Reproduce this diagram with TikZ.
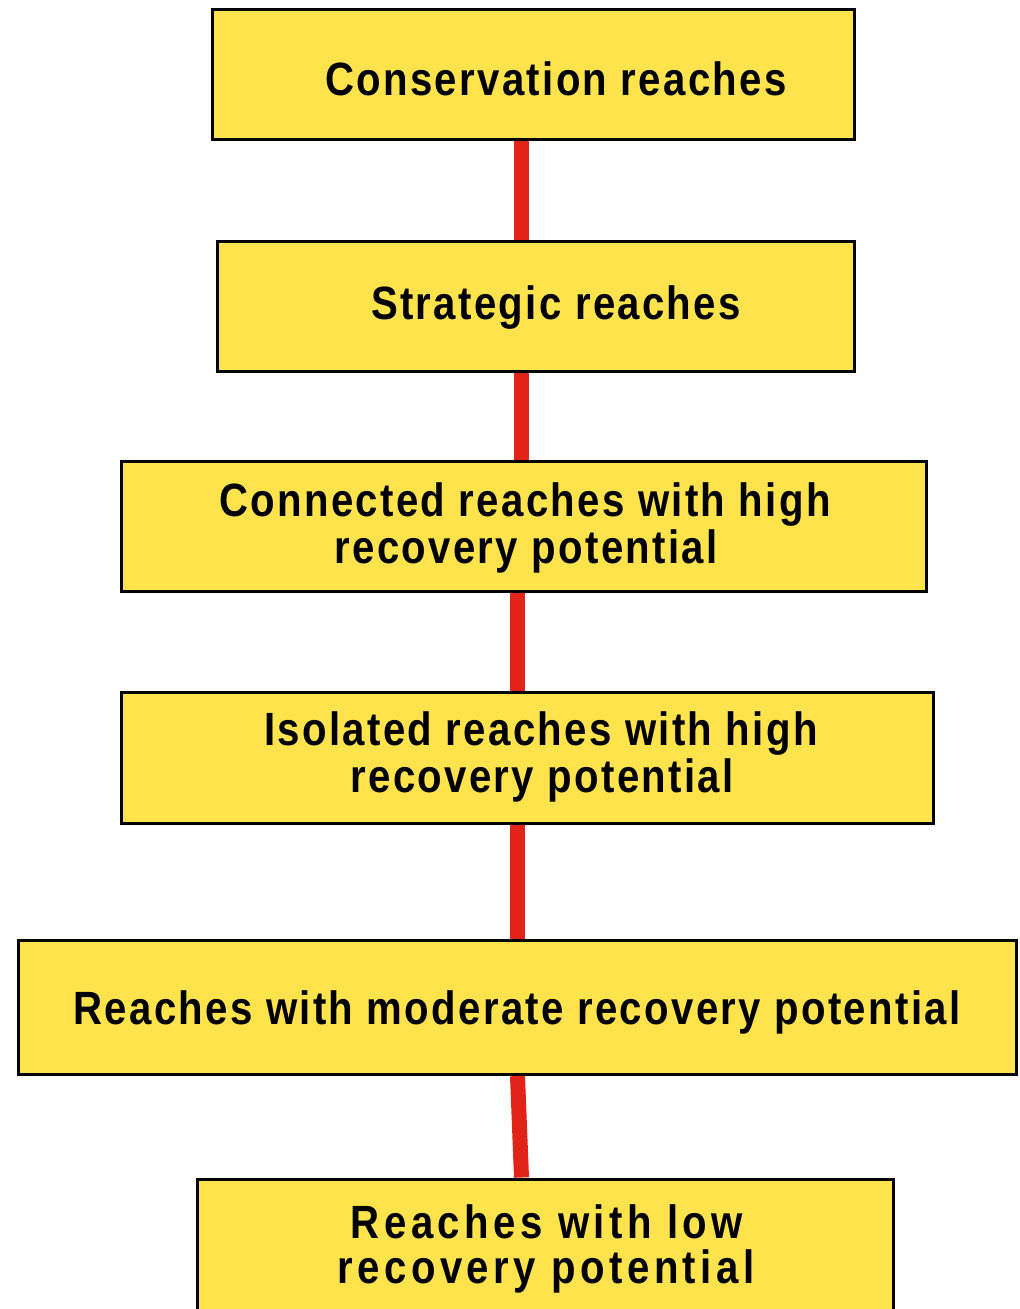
\documentclass[tikz,border=0pt]{standalone}
\usepackage{fontspec}
\newfontfamily\lbl{Liberation Sans}[FakeStretch=0.86,LetterSpace=5]
\newfontfamily\lblwide{Liberation Sans}[FakeStretch=0.86,LetterSpace=9.5]
\definecolor{boxyellow}{HTML}{FFE34D}
\definecolor{linkred}{HTML}{E2231A}
\tikzset{
  box/.style={draw=black, line width=2.25pt, fill=boxyellow, rectangle, inner sep=0pt},
  lab/.style={inner sep=0pt, anchor=base, font=\lbl\bfseries\fontsize{35}{35}\selectfont},
  labwide/.style={inner sep=0pt, anchor=base, font=\lblwide\bfseries\fontsize{35}{35}\selectfont},
  conn/.style={draw=linkred, line width=11.25pt, line cap=butt}
}
\begin{document}
\begin{tikzpicture}[x=0.75pt, y=-0.75pt]
\clip (0,0) rectangle (1020,1309);
\fill[white] (0,0) rectangle (1020,1309);
\node[box, minimum width=0.75pt*642, minimum height=0.75pt*130] (b1) at (533.5,74.5) {};
\node[box, minimum width=0.75pt*637, minimum height=0.75pt*130] (b2) at (536,306.5) {};
\node[box, minimum width=0.75pt*805, minimum height=0.75pt*130] (b3) at (524,526.5) {};
\node[box, minimum width=0.75pt*812, minimum height=0.75pt*131] (b4) at (527.5,758) {};
\node[box, minimum width=0.75pt*998, minimum height=0.75pt*134] (b5) at (517.5,1007.5) {};
\node[box, minimum width=0.75pt*696, minimum height=0.75pt*160] (b6) at (545.5,1259) {};
\draw[conn] (b1.south -| 521.5,0) -- (b2.north -| 521.5,0);
\draw[conn] (b2.south -| 521,0) -- (b3.north -| 521,0);
\draw[conn] (b3.south -| 517.5,0) -- (b4.north -| 517.5,0);
\draw[conn] (b4.south -| 517.5,0) -- (b5.north -| 517.5,0);
\draw[conn] (b5.south -| 517.5,0) -- (b6.north -| 521.5,0);
% labels
\node[lab] (t1) at (556,96) {Conservation reaches};
\node[lab] (t2) at (556,319) {Strategic reaches};
\node[lab] (t3a) at (525,516) {Connected reaches with high};
\node[lab] (t3b) at (526,563) {recovery potential};
\node[lab] (t4a) at (541,745) {Isolated reaches with high};
\node[lab] (t4b) at (542,792) {recovery potential};
\node[lab] (t5) at (517,1024) {Reaches with moderate recovery potential};
\node[labwide] (t6a) at (547,1238) {Reaches with low};
\node[labwide] (t6b) at (546,1283) {recovery potential};
\end{tikzpicture}
\end{document}
